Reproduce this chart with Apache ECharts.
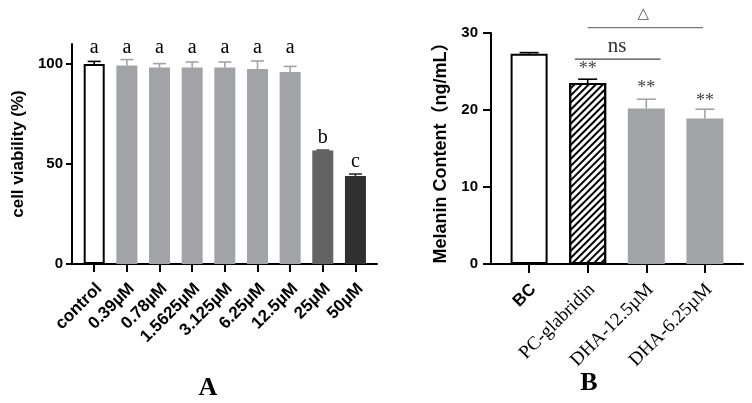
<!DOCTYPE html>
<html>
<head>
<meta charset="utf-8">
<script src="https://cdn.jsdelivr.net/npm/echarts@6/dist/echarts.min.js"></script>
<style>
html, body { margin: 0; background: #fff; }
#echart { width: 752px; height: 403px; }
</style>
</head>
<body>
<div id="echart"></div>
<script>
// panel A - cell viability
var catsA = ['control', '0.39µM', '0.78µM', '1.5625µM', '3.125µM', '6.25µM', '12.5µM', '25µM', '50µM'];
var valsA = [100, 99.2, 98.2, 98.2, 98.2, 97.5, 96, 56.7, 44];
var errA = [1.3, 3, 2, 2.8, 2.8, 4, 2.8, 0.3, 1];
var lettersA = ['a', 'a', 'a', 'a', 'a', 'a', 'a', 'b', 'c'];
var letterYA = [108, 108, 108, 108, 108, 108, 108, 63, 51];
var ticksA = [0, 50, 100];

// panel B - melanin content
var catsB = ['BC', 'PC-glabridin', 'DHA-12.5µM', 'DHA-6.25µM'];
var valsB = [27.3, 23.5, 20.2, 18.9];
var errB = [0.15, 0.5, 1.2, 1.2];
var starsB = ['', '**', '**', '**'];
var starYB = [0, 25.3, 22.8, 21.1];
// significance brackets: [from, to, height]
var bracketsB = [[0.78, 2.24, 26.6], [1.0, 2.97, 30.7]];
// bracket marks: [x, y, text]
var bracketTextB = [[1.5, 28.3, 'ns'], [1.95, 32.5, '△']];

var colorsA = ['#fff', '#a2a3a7', '#a2a3a7', '#a2a3a7', '#a2a3a7', '#a2a3a7', '#a2a3a7', '#636363', '#303030'];
var errColorsA = ['#000', '#a2a3a7', '#a2a3a7', '#a2a3a7', '#a2a3a7', '#a2a3a7', '#a2a3a7', '#555', '#303030'];
var errColorsB = ['#000', '#000', '#a2a3a7', '#a2a3a7'];

var sans = 'Liberation Sans';
var serif = 'Liberation Serif';

var myChart = echarts.init(document.getElementById('echart'));

function idx(n) {
    var a = [];
    for (var i = 0; i < n; i++) a.push(i);
    return a;
}

function errRender(capW) {
    return function (params, api) {
        var x = api.value(0), v = api.value(1), e = api.value(2);
        var p0 = api.coord([x, v]);
        var p1 = api.coord([x, v + e]);
        var st = { stroke: api.visual('color'), lineWidth: 1.6 };
        return {
            type: 'group',
            children: [
                { type: 'line', shape: { x1: p0[0], y1: p0[1], x2: p1[0], y2: p1[1] }, style: st },
                { type: 'line', shape: { x1: p1[0] - capW / 2, y1: p1[1], x2: p1[0] + capW / 2, y2: p1[1] }, style: st }
            ]
        };
    };
}

function textRender(font, color) {
    return function (params, api) {
        var p = api.coord([api.value(0), api.value(1)]);
        return {
            type: 'text',
            x: p[0],
            y: p[1],
            style: {
                text: api.value(2),
                font: font,
                fill: color,
                align: 'center',
                verticalAlign: 'middle'
            }
        };
    };
}

var barsA = valsA.map(function (v, i) {
    return {
        value: [i, v],
        itemStyle: {
            color: colorsA[i],
            borderColor: i === 0 ? '#000' : colorsA[i],
            borderWidth: i === 0 ? 2 : 0
        }
    };
});

var barsB = valsB.map(function (v, i) {
    var it = { color: '#a2a3a7', borderWidth: 0 };
    if (i === 0) it = { color: '#fff', borderColor: '#000', borderWidth: 2 };
    if (i === 1) it = {
        color: '#fff', borderColor: '#000', borderWidth: 2,
        decal: {
            symbol: 'rect', symbolSize: 1,
            dashArrayX: [1, 0], dashArrayY: [1.4, 2.6],
            rotation: -Math.PI / 4, color: '#000'
        }
    };
    return { value: [i, v], itemStyle: it };
});

var axisLineStyle = { show: true, onZero: false, lineStyle: { color: '#000', width: 2 } };

var option = {
    animation: false,
    grid: [
        { left: 72, right: 375, top: 44, bottom: 139 },
        { left: 491, right: 9, top: 33, bottom: 139 }
    ],
    xAxis: [{
        gridIndex: 0,
        type: 'value',
        min: -0.68,
        max: 8.66,
        splitLine: { show: false },
        axisLine: axisLineStyle,
        axisTick: { show: true, customValues: idx(catsA.length), length: 8, lineStyle: { color: '#000', width: 2 } },
        axisLabel: {
            customValues: idx(catsA.length),
            rotate: 45,
            margin: 27,
            padding: [0, -7, 0, 0],
            color: '#000',
            fontFamily: sans,
            fontWeight: 'bold',
            fontSize: 17,
            formatter: function (v) { return catsA[Math.round(v)]; }
        }
    }, {
        gridIndex: 1,
        type: 'value',
        min: -0.65,
        max: 3.65,
        splitLine: { show: false },
        axisLine: axisLineStyle,
        axisTick: { show: true, customValues: idx(catsB.length), length: 9, lineStyle: { color: '#000', width: 2 } },
        axisLabel: {
            customValues: idx(catsB.length),
            rotate: 45,
            margin: 27,
            padding: [0, -6, 0, 0],
            color: '#000',
            formatter: function (v) {
                var i = Math.round(v);
                return i === 0 ? '{b|' + catsB[i] + '}' : '{s|' + catsB[i] + '}';
            },
            rich: {
                b: { fontFamily: sans, fontWeight: 'bold', fontSize: 17, color: '#000' },
                s: { fontFamily: serif, fontSize: 19, color: '#000' }
            }
        }
    }],
    yAxis: [{
        gridIndex: 0,
        type: 'value',
        min: 0,
        max: 110,
        splitLine: { show: false },
        axisLine: axisLineStyle,
        axisTick: { show: true, customValues: ticksA, length: 6, lineStyle: { color: '#000', width: 2 } },
        axisLabel: {
            customValues: ticksA,
            margin: 9,
            color: '#000',
            fontFamily: sans,
            fontWeight: 'bold',
            fontSize: 15
        },
        name: 'cell viability (%)',
        nameLocation: 'middle',
        nameGap: 45,
        nameTextStyle: { fontFamily: sans, fontWeight: 'bold', fontSize: 17, color: '#000' }
    }, {
        gridIndex: 1,
        type: 'value',
        min: 0,
        max: 30,
        interval: 10,
        splitLine: { show: false },
        axisLine: axisLineStyle,
        axisTick: { show: true, length: 8, lineStyle: { color: '#000', width: 2 } },
        axisLabel: {
            margin: 13,
            color: '#000',
            fontFamily: sans,
            fontWeight: 'bold',
            fontSize: 15
        },
        name: 'Melanin Content（ng/mL）',
        nameLocation: 'middle',
        nameGap: 41,
        nameTextStyle: { fontFamily: sans + ', Noto Sans CJK SC', fontWeight: 'bold', fontSize: 18, color: '#000' }
    }],
    series: [{
        type: 'bar',
        xAxisIndex: 0,
        yAxisIndex: 0,
        barWidth: 21,
        data: barsA
    }, {
        type: 'custom',
        xAxisIndex: 0,
        yAxisIndex: 0,
        renderItem: errRender(13),
        data: valsA.map(function (v, i) {
            return { value: [i, v, errA[i]], itemStyle: { color: errColorsA[i] } };
        }),
        z: 3
    }, {
        type: 'custom',
        xAxisIndex: 0,
        yAxisIndex: 0,
        renderItem: textRender('20px ' + serif, '#000'),
        data: lettersA.map(function (t, i) { return [i, letterYA[i], t]; }),
        z: 4
    }, {
        type: 'bar',
        xAxisIndex: 1,
        yAxisIndex: 1,
        barWidth: 37,
        data: barsB
    }, {
        type: 'custom',
        xAxisIndex: 1,
        yAxisIndex: 1,
        renderItem: errRender(19),
        data: valsB.map(function (v, i) {
            return { value: [i, v, errB[i]], itemStyle: { color: errColorsB[i] } };
        }),
        z: 3
    }, {
        type: 'custom',
        xAxisIndex: 1,
        yAxisIndex: 1,
        renderItem: textRender('18px ' + serif, '#444'),
        data: starsB.map(function (t, i) { return [i, starYB[i], t]; }),
        z: 4
    }, {
        type: 'custom',
        xAxisIndex: 1,
        yAxisIndex: 1,
        clip: false,
        renderItem: function (params, api) {
            var a = api.coord([api.value(0), api.value(2)]);
            var b = api.coord([api.value(1), api.value(2)]);
            return {
                type: 'line',
                shape: { x1: a[0], y1: a[1], x2: b[0], y2: b[1] },
                style: { stroke: params.dataIndex === 0 ? '#444' : '#777', lineWidth: 1.2 }
            };
        },
        data: bracketsB,
        z: 4
    }, {
        type: 'custom',
        xAxisIndex: 1,
        yAxisIndex: 1,
        clip: false,
        renderItem: function (params, api) {
            var p = api.coord([api.value(0), api.value(1)]);
            var isTri = params.dataIndex === 1;
            return {
                type: 'text',
                x: p[0],
                y: p[1],
                style: {
                    text: api.value(2),
                    font: isTri ? '15px DejaVu Sans' : '21px ' + serif,
                    fill: isTri ? '#555' : '#333',
                    align: 'center',
                    verticalAlign: 'middle'
                }
            };
        },
        data: bracketTextB,
        z: 4
    }],
    graphic: [
        { type: 'text', x: 208, y: 388, style: { text: 'A', font: 'bold 26px ' + serif, fill: '#000', align: 'center', verticalAlign: 'middle' } },
        { type: 'text', x: 589, y: 383, style: { text: 'B', font: 'bold 26px ' + serif, fill: '#000', align: 'center', verticalAlign: 'middle' } }
    ]
};

myChart.setOption(option);
</script>
</body>
</html>
